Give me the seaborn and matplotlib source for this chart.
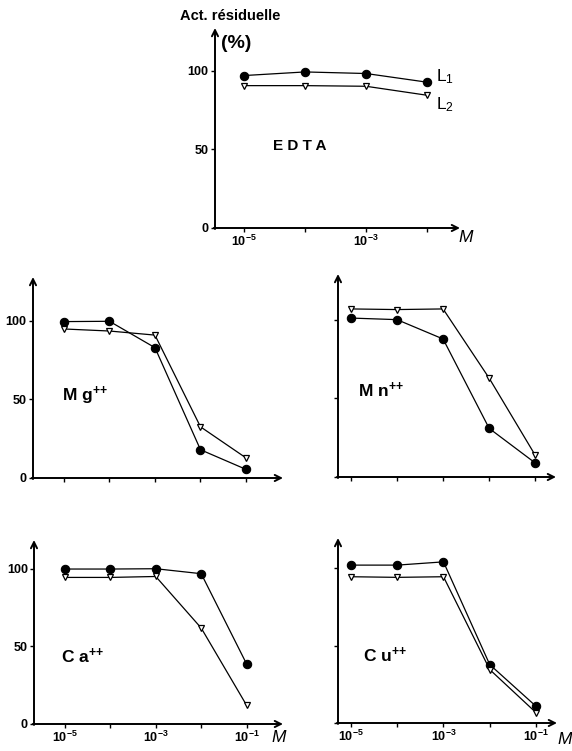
import numpy as np
import pandas as pd
import matplotlib
matplotlib.use("Agg")
import matplotlib.pyplot as plt
import seaborn as sns

# ---- data: residual activity (%) vs. molar concentration ----
conc = [1e-5, 1e-4, 1e-3, 1e-2, 1e-1]
conc_edta = [1e-5, 1e-4, 1e-3, 1e-2]

edta_l1 = [96.8, 99.1, 98.1, 92.6]
edta_l2 = [90.4, 90.4, 90.0, 84.3]

mg_l1 = [99.6, 99.8, 83.0, 18.0, 5.5]
mg_l2 = [94.9, 93.6, 91.0, 32.6, 12.8]

mn_l1 = [101.0, 100.0, 87.7, 30.9, 8.9]
mn_l2 = [106.8, 106.4, 106.8, 62.8, 13.8]

ca_l1 = [99.8, 99.8, 100.0, 96.8, 38.6]
ca_l2 = [94.4, 94.4, 95.0, 61.8, 12.0]

cu_l1 = [101.9, 101.9, 104.0, 37.7, 10.8]
cu_l2 = [94.4, 94.0, 94.4, 34.5, 6.7]

yticks = [0, 50, 100]
ytick_labels = ["0", "50", "100"]

sns.set_style("ticks")
plt.rcParams["font.family"] = ["Liberation Sans", "DejaVu Sans"]
plt.rcParams["mathtext.fontset"] = "custom"
plt.rcParams["mathtext.rm"] = "Liberation Sans"
plt.rcParams["mathtext.it"] = "Liberation Sans:italic"
plt.rcParams["mathtext.bf"] = "Liberation Sans:bold"

W, H = 572, 751
fig = plt.figure(figsize=(W / 100, H / 100), dpi=100)
fig.patch.set_facecolor("white")


def make_axes(left, right, top, bottom, xlog, ytop):
    ax = fig.add_axes([left / W, 1 - bottom / H, (right - left) / W, (bottom - top) / H])
    ax.set_facecolor("none")
    ax.set_xscale("log")
    ax.set_xlim(10 ** xlog[0], 10 ** xlog[1])
    ax.set_ylim(0, ytop)
    for s in ax.spines.values():
        s.set_visible(False)
    kw = dict(xycoords="axes fraction", textcoords="axes fraction",
              arrowprops=dict(arrowstyle="->", lw=1.4, color="black",
                              shrinkA=0, shrinkB=0, mutation_scale=11),
              annotation_clip=False)
    ax.annotate("", xy=(1, 0), xytext=(-0.005, 0), **kw)
    ax.annotate("", xy=(0, 1), xytext=(0, -0.005), **kw)
    ax.tick_params(direction="out", length=3, width=1, pad=1.5,
                   labelsize=9, colors="black")
    ax.minorticks_off()
    return ax


def draw_series(ax, x, l1, l2):
    df1 = pd.DataFrame({"M": x, "act": l1})
    df2 = pd.DataFrame({"M": x, "act": l2})
    sns.lineplot(data=df1, x="M", y="act", ax=ax, color="black", lw=0.9,
                 marker="o", markersize=6, markerfacecolor="black",
                 markeredgecolor="black", markeredgewidth=0.8, zorder=3)
    sns.lineplot(data=df2, x="M", y="act", ax=ax, color="black", lw=0.9,
                 marker="v", markersize=4.8, markerfacecolor="white",
                 markeredgecolor="black", markeredgewidth=0.9, zorder=3)
    ax.set_xlabel("")
    ax.set_ylabel("")


def set_xticks(ax, ticks, labels):
    ax.set_xticks(ticks)
    ax.set_xticklabels(labels, fontsize=9)
    ax.minorticks_off()


def set_yticks(ax, show):
    ax.set_yticks(yticks)
    ax.set_yticklabels(ytick_labels if show else [], fontweight="bold")


def pow10(e):
    return r"$\mathbf{10^{%d}}$" % e


# EDTA (top, centred)
ax_e = make_axes(215, 460, 28, 228, (-5.475, -1.459), 127)
draw_series(ax_e, conc_edta, edta_l1, edta_l2)
set_xticks(ax_e, conc_edta, [pow10(-5), "", pow10(-3), ""])
set_yticks(ax_e, True)

# Mg++
ax_mg = make_axes(33, 283, 277, 478, (-5.68, -0.187), 128)
draw_series(ax_mg, conc, mg_l1, mg_l2)
set_xticks(ax_mg, conc, [""] * 5)
set_yticks(ax_mg, True)

# Mn++
ax_mn = make_axes(338, 556, 274, 477, (-5.28, -0.55), 129)
draw_series(ax_mn, conc, mn_l1, mn_l2)
set_xticks(ax_mn, conc, [""] * 5)
set_yticks(ax_mn, False)

# Ca++
ax_ca = make_axes(34, 283, 540, 724, (-5.68, -0.2), 118.5)
draw_series(ax_ca, conc, ca_l1, ca_l2)
set_xticks(ax_ca, conc, [pow10(-5), "", pow10(-3), "", pow10(-1)])
set_yticks(ax_ca, True)

# Cu++
ax_cu = make_axes(338, 557, 538, 723, (-5.28, -0.546), 119.4)
draw_series(ax_cu, conc, cu_l1, cu_l2)
set_xticks(ax_cu, conc, [pow10(-5), "", pow10(-3), "", pow10(-1)])
set_yticks(ax_cu, False)


def ftext(x, y, s, **kw):
    fig.text(x / W, 1 - y / H, s, color="black", **kw)


# titles and annotations
ftext(180, 16, "Act. résiduelle", fontsize=10.5, fontweight="bold", ha="left", va="center")
ftext(221, 43, "(%)", fontsize=14, fontweight="bold", ha="left", va="center")
ftext(436, 77, r"L$_{1}$", fontsize=12.5, ha="left", va="center")
ftext(436, 105, r"L$_{2}$", fontsize=12.5, ha="left", va="center")
ftext(273, 150, "E D T A", fontsize=11, fontweight="bold", ha="left", va="baseline")
ftext(62, 401, r"M g$^{\mathbf{+\!+}}$", fontsize=12.5, fontweight="bold", ha="left", va="baseline")
ftext(358, 397, r"M n$^{\mathbf{+\!+}}$", fontsize=12.5, fontweight="bold", ha="left", va="baseline")
ftext(61, 663, r"C a$^{\mathbf{+\!+}}$", fontsize=12.5, fontweight="bold", ha="left", va="baseline")
ftext(363, 662, r"C u$^{\mathbf{+\!+}}$", fontsize=12.5, fontweight="bold", ha="left", va="baseline")
ftext(466, 238, "M", fontsize=12.5, style="italic", ha="center", va="center")
ftext(279, 737, "M", fontsize=12.5, style="italic", ha="center", va="center")
ftext(565, 739, "M", fontsize=12.5, style="italic", ha="center", va="center")

fig.savefig("out.png", dpi=100, facecolor="white")
